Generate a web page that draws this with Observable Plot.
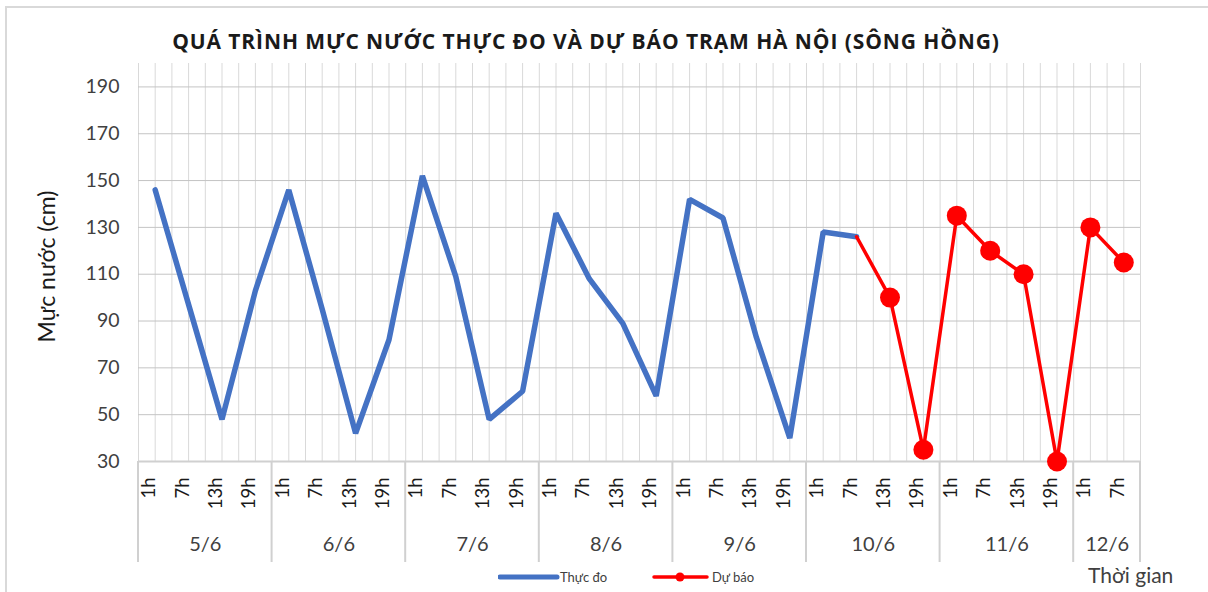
<!DOCTYPE html>
<html>
<head>
<meta charset="utf-8">
<script src="https://cdn.jsdelivr.net/npm/d3@7"></script>
<script src="https://cdn.jsdelivr.net/npm/@observablehq/plot@0.6"></script>
<style>
  html, body { margin: 0; padding: 0; background: #fff; }
  #wrap { position: relative; width: 1208px; height: 592px; overflow: hidden; font-family: Lato, "Open Sans", sans-serif; color: #404040; }
  #border { position: absolute; left: 5px; top: 6px; width: 1220px; height: 620px; border: 2px solid #d9d9d9; box-sizing: border-box; }
  #title { position: absolute; left: 0; top: 27px; width: 1172px; text-align: center; font-family: "Open Sans", Lato, sans-serif; font-weight: bold; font-size: 21px; letter-spacing: 0.9px; color: #1a1a1a; white-space: nowrap; }
  #chart { position: absolute; left: 0; top: 60px; }
  .leg { position: absolute; top: 569px; font-size: 13px; color: #404040; white-space: nowrap; }
  #xtitle { position: absolute; left: 1088px; top: 562px; font-size: 21px; color: #404040; }
</style>
</head>
<body>
<div id="wrap">
  <div id="border"></div>
  <div id="title">QUÁ TRÌNH MỰC NƯỚC THỰC ĐO VÀ DỰ BÁO TRẠM HÀ NỘI (SÔNG HỒNG)</div>
  <div id="chart"></div>
  <div id="legend"></div>
  <div id="xtitle">Thời gian</div>
</div>
<script>
// ---- data ----
const days = ["5/6", "6/6", "7/6", "8/6", "9/6", "10/6", "11/6", "12/6"];
const dayCounts = [4, 4, 4, 4, 4, 4, 4, 2];
const hours = ["1h", "7h", "13h", "19h"];
const observed = [146, 97, 48, 103, 146, 95, 42, 82, 152, 109, 48, 60, 136, 108, 89, 58, 142, 134, 83, 40, 128, 126];
const forecast = [126, 100, 35, 135, 120, 110, 30, 130, 115];
const yTicks = [30, 50, 70, 90, 110, 130, 150, 170, 190];
const yDomain = [30, 200];
const seriesNames = ["Thực đo", "Dự báo"];
const colors = ["#4472C4", "#FF0000"];

// ---- derived tables ----
const cats = [];
days.forEach((d, di) => { for (let k = 0; k < dayCounts[di]; k++) cats.push({day: d, hour: hours[k]}); });
cats.forEach((c, i) => c.i = i);
const obsData = observed.map((v, i) => ({i, v}));
const fcStart = observed.length - 1;
const fcData = forecast.map((v, k) => ({i: fcStart + k, v}));
const groups = [];
{ let s = 0; days.forEach((d, di) => { groups.push({day: d, start: s - 0.5, end: s + dayCounts[di] - 0.5, mid: s + (dayCounts[di] - 1) / 2}); s += dayCounts[di]; }); }
const bounds = [groups[0].start, ...groups.map(g => g.end)];
const halfGrid = d3.range(-0.5, cats.length, 0.5);

// separators between day groups, drawn from the axis line down into the label band
const groupSeparators = (index, scales, values, dims) => {
  const g = d3.create("svg:g").attr("stroke", "#d0d0d0").attr("stroke-width", 2);
  const y0 = scales.y(yDomain[0]);
  for (const b of bounds) {
    const x = scales.x(b);
    g.append("line").attr("x1", x).attr("x2", x).attr("y1", y0).attr("y2", y0 + 101);
  }
  return g.node();
};

const font = "Lato, 'Open Sans', sans-serif";
const chart = Plot.plot({
  width: 1208,
  height: 510,
  marginLeft: 138,
  marginRight: 68,
  marginTop: 3,
  marginBottom: 109,
  style: {fontFamily: font, color: "#404040", background: "transparent"},
  x: {type: "linear", domain: [-0.5, cats.length - 0.5], axis: null},
  y: {domain: yDomain, axis: null},
  marks: [
    Plot.ruleX(halfGrid, {stroke: "#d9d9d9", strokeWidth: 1}),
    Plot.ruleY(yTicks, {stroke: "#c4c4c4", strokeWidth: 1}),
    Plot.ruleY([yDomain[0]], {stroke: "#d0d0d0", strokeWidth: 2}),
    groupSeparators,
    Plot.text(yTicks, {y: d => d, text: d => String(d), frameAnchor: "left", textAnchor: "end", dx: -19, fontSize: 19.5, fill: "#404040"}),
    Plot.text(["Mực nước (cm)"], {frameAnchor: "left", textAnchor: "middle", rotate: -90, dx: -91, dy: 4, fontSize: 23, fill: "#1a1a1a"}),
    Plot.text(cats, {x: "i", text: "hour", frameAnchor: "bottom", rotate: -90, textAnchor: "end", dy: 16, fontSize: 18.5, fill: "#1a1a1a"}),
    Plot.text(groups, {x: "mid", text: "day", frameAnchor: "bottom", dy: 89, fontSize: 20, fill: "#404040"}),
    Plot.line(obsData, {x: "i", y: "v", stroke: colors[0], strokeWidth: 5.5, strokeLinejoin: "miter"}),
    Plot.line(fcData, {x: "i", y: "v", stroke: colors[1], strokeWidth: 3.5}),
    Plot.dot(fcData.slice(1), {x: "i", y: "v", r: 10, fill: colors[1], stroke: "none"})
  ]
});
document.getElementById("chart").appendChild(chart);

// legend
const leg = document.getElementById("legend");
leg.innerHTML =
  `<svg style="position:absolute;left:498px;top:571px" width="62" height="12"><line x1="2" y1="6" x2="59" y2="6" stroke="${colors[0]}" stroke-width="5" stroke-linecap="round"/></svg>` +
  `<div class="leg" style="left:560px">${seriesNames[0]}</div>` +
  `<svg style="position:absolute;left:652px;top:571px" width="58" height="12"><line x1="2" y1="6" x2="55" y2="6" stroke="${colors[1]}" stroke-width="3.5" stroke-linecap="round"/><circle cx="28" cy="6" r="4.5" fill="${colors[1]}"/></svg>` +
  `<div class="leg" style="left:712px">${seriesNames[1]}</div>`;
</script>
</body>
</html>
